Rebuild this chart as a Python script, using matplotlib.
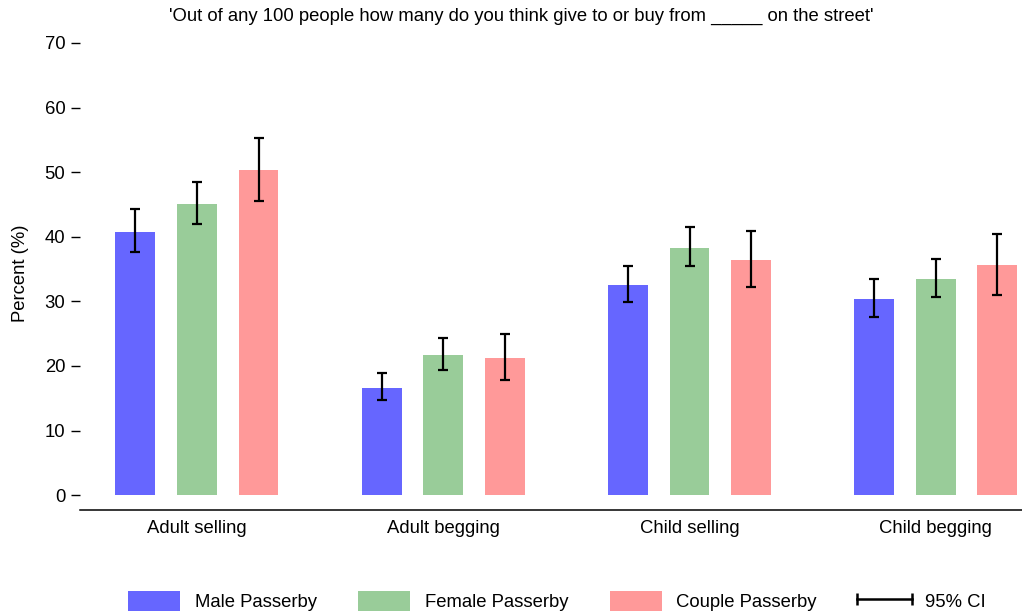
import numpy as np
import matplotlib
matplotlib.use("Agg")
import matplotlib.pyplot as plt
from matplotlib.lines import Line2D
from matplotlib.patches import Patch
from matplotlib.legend_handler import HandlerLine2D

plt.rcParams['font.family'] = ['Liberation Sans', 'DejaVu Sans']

categories = ["Adult selling", "Adult begging", "Child selling", "Child begging"]
series = ["Male Passerby", "Female Passerby", "Couple Passerby"]
colors = ["#6666ff", "#99cc99", "#ff9999"]

male = [40.8, 16.6, 32.5, 30.4]
male_lo = [37.7, 14.7, 29.9, 27.6]
male_hi = [44.3, 18.9, 35.4, 33.5]

female = [45.0, 21.7, 38.3, 33.4]
female_lo = [41.9, 19.3, 35.4, 30.6]
female_hi = [48.4, 24.4, 41.5, 36.6]

couple = [50.3, 21.2, 36.4, 35.6]
couple_lo = [45.5, 17.8, 32.2, 31.0]
couple_hi = [55.3, 25.0, 40.9, 40.4]

values = [male, female, couple]
lows = [male_lo, female_lo, couple_lo]
highs = [male_hi, female_hi, couple_hi]

fs = 13.3

fig = plt.figure(figsize=(10.22, 6.15), dpi=100)
ax = fig.add_axes([80 / 1022, 1 - 510 / 615, 1 - 80 / 1022, (510 - 36.5) / 615])

x = np.arange(len(categories))
offset = 0.25
width = 0.162
for i in range(3):
    pos = x + (i - 1) * offset
    v = np.array(values[i])
    err = [v - np.array(lows[i]), np.array(highs[i]) - v]
    ax.bar(pos, v, width, color=colors[i], linewidth=0)
    ax.errorbar(pos, v, yerr=err, fmt="none", ecolor="black",
                elinewidth=1.6, capsize=3.6, capthick=1.6)

ax.set_xlim(-0.475, 3.35)
ax.set_ylim(-2.3, 71)
ax.set_yticks(range(0, 71, 10))
ax.set_xticks(x)
ax.set_xticklabels(categories, fontsize=fs)
ax.tick_params(axis="x", length=0, pad=7)
ax.tick_params(axis="y", length=6.5, width=1, labelsize=fs, pad=4)
for s in ["top", "right", "left"]:
    ax.spines[s].set_visible(False)
ax.spines["bottom"].set_linewidth(1.1)
ax.set_ylabel("Percent (%)", fontsize=fs, labelpad=11)

fig.text(521 / 1022, 1 - 16 / 615, "'Out of any 100 people how many do you think give to or buy from _____ on the street'",
         ha="center", va="center", fontsize=fs)

handles = [Patch(facecolor=c, edgecolor="none") for c in colors]
ci = Line2D([0, 1], [0, 0], color="black", lw=1.8, marker="|",
            markersize=8, markeredgewidth=1.8)
handles.append(ci)
labels = series + ["95% CI"]
fig.legend(handles, labels, loc="center", bbox_to_anchor=(557 / 1022, 1 - 601 / 615),
           ncol=4, frameon=False, fontsize=fs, handlelength=2.8, handleheight=1.25,
           handletextpad=0.8, columnspacing=2.25, numpoints=2,
           handler_map={ci: HandlerLine2D(marker_pad=-0.1, numpoints=2)})

fig.savefig("out.png", dpi=100)
